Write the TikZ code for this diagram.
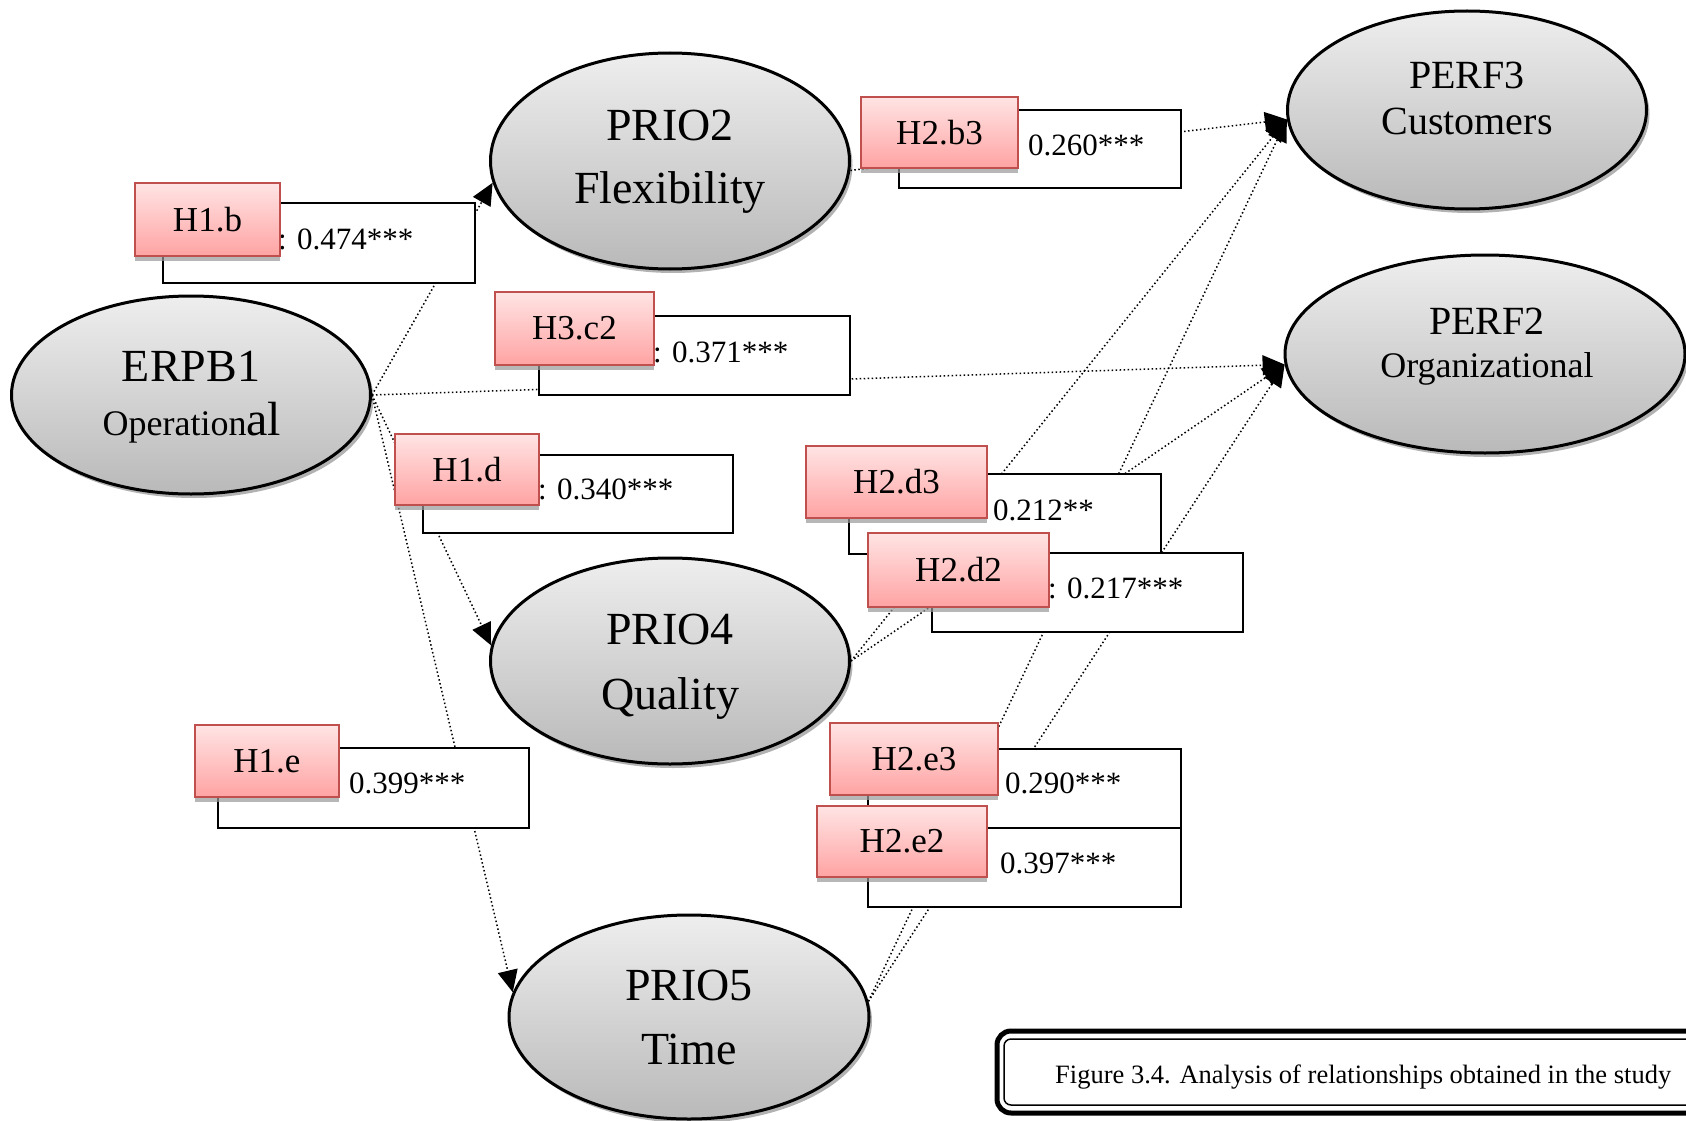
\documentclass[tikz,border=0pt]{standalone}
\usepackage{fontspec}
\setmainfont{Liberation Serif}
\usetikzlibrary{shapes.geometric,arrows.meta,shadows}
\definecolor{ellTop}{RGB}{238,238,238}
\definecolor{ellBot}{RGB}{185,185,185}
\definecolor{hypTop}{RGB}{255,228,228}
\definecolor{hypBot}{RGB}{255,163,163}
\definecolor{hypLine}{RGB}{192,80,77}
\begin{document}
\begin{tikzpicture}[x=1pt,y=-1pt,
  ell/.style={ellipse, draw=black, line width=3pt, top color=ellTop, bottom color=ellBot, inner sep=0pt,
    drop shadow={shadow xshift=3pt,shadow yshift=-4pt,fill=black!50,opacity=0.6}},
  hyp/.style={rectangle, draw=hypLine, line width=2.5pt, top color=hypTop, bottom color=hypBot, inner sep=0pt,
    font=\fontsize{35}{40}\selectfont,
    drop shadow={shadow xshift=0pt,shadow yshift=-5pt,fill=black!40,opacity=0.7}},
  valbox/.style={rectangle, draw=black, line width=2pt, fill=white, inner sep=0pt},
  valtxt/.style={anchor=base west, inner sep=0pt, font=\fontsize{31}{36}\selectfont},
  bigtxt/.style={anchor=base, inner sep=0pt, font=\fontsize{46}{50}\selectfont},
  perftxt/.style={anchor=base, inner sep=0pt, font=\fontsize{40}{44}\selectfont},
  link/.style={line width=1.5pt, dash pattern=on 1.5pt off 2.5pt, -{Triangle[length=22pt,width=20pt]}},
]
\clip (0,0) rectangle (1686,1121);
\fill[white] (0,0) rectangle (1686,1121);

% ellipses
\node[ell, minimum width=359pt, minimum height=198pt] (erpb) at (191,395) {};
\node[ell, minimum width=359pt, minimum height=216pt] (prio2) at (670,161) {};
\node[ell, minimum width=359pt, minimum height=206pt] (prio4) at (670,661) {};
\node[ell, minimum width=360pt, minimum height=204pt] (prio5) at (689,1017) {};
\node[ell, minimum width=359pt, minimum height=198pt] (perf3) at (1467,110) {};
\node[ell, minimum width=400pt, minimum height=198pt] (perf2) at (1485,354) {};

% ellipse texts
\node[bigtxt] (erpbA) at (191,381) {ERPB1};
\node[anchor=base, inner sep=0pt] (erpbB) at (192,435) {{\fontsize{36}{40}\selectfont Operation}{\fontsize{48}{50}\selectfont al}};
\node[bigtxt] (prio2A) at (670,140) {PRIO2};
\node[bigtxt] (prio2B) at (670,203) {Flexibility};
\node[bigtxt] (prio4A) at (670,644) {PRIO4};
\node[bigtxt] (prio4B) at (670,709) {Quality};
\node[bigtxt] (prio5A) at (689,1000) {PRIO5};
\node[bigtxt] (prio5B) at (689,1064) {Time};
\node[perftxt] (perf3A) at (1467,89) {PERF3};
\node[perftxt] (perf3B) at (1467,135) {Customers};
\node[perftxt] (perf2A) at (1487,334) {PERF2};
\node[anchor=base, inner sep=0pt, font=\fontsize{36}{40}\selectfont] (perf2B) at (1487,377) {Organizational};

% connectors
\draw[link] (erpb.east) -- (prio2.187);
\draw[link] (erpb.east) -- (perf2.183);
\draw[link] (erpb.east) -- (prio4.175);
\draw[link] (erpb.east) -- (prio5.172);
\draw[link] (prio2.357) -- (perf3.183);
\draw[link] (prio4.east) -- (perf3.183);
\draw[link] (prio4.east) -- (perf2.183);
\draw[link] (prio5.5) -- (perf3.183);
\draw[link] (prio5.5) -- (perf2.183);

% H1.b
\node[valbox, minimum width=312pt, minimum height=80pt] (b1v) at (319,243) {};
\node[valtxt] (b1t) at (278,249) {: 0.474***};
\node[hyp, minimum width=145pt, minimum height=73pt] (b1) at (207.5,219.5) {H1.b};
% H3.c2
\node[valbox, minimum width=311pt, minimum height=79pt] (c2v) at (694.5,355.5) {};
\node[valtxt] (c2t) at (653,362) {: 0.371***};
\node[hyp, minimum width=159pt, minimum height=73pt] (c2) at (574.5,328.5) {H3.c2};
% H1.d
\node[valbox, minimum width=310pt, minimum height=78pt] (d1v) at (578,494) {};
\node[valtxt] (d1t) at (538,499) {: 0.340***};
\node[hyp, minimum width=144pt, minimum height=71pt] (d1) at (467,469.5) {H1.d};
% H1.e
\node[valbox, minimum width=311pt, minimum height=80pt] (e1v) at (373.5,788) {};
\node[valtxt] (e1t) at (349,793) {0.399***};
\node[hyp, minimum width=144pt, minimum height=72pt] (e1) at (267,761) {H1.e};
% H2.b3
\node[valbox, minimum width=282pt, minimum height=78pt] (b3v) at (1040,149) {};
\node[valtxt] (b3t) at (1028,156) {0.260***};
\node[hyp, minimum width=157pt, minimum height=71pt] (b3) at (939.5,132.5) {H2.b3};
% H2.d3
\node[valbox, minimum width=312pt, minimum height=80pt] (d3v) at (1005,514) {};
\node[valtxt] (d3t) at (993,520) {0.212**};
\node[hyp, minimum width=181pt, minimum height=72pt] (d3) at (896.5,482) {H2.d3};
% H2.d2
\node[valbox, minimum width=311pt, minimum height=79pt] (d2v) at (1087.5,592.5) {};
\node[valtxt] (d2t) at (1048,598) {: 0.217***};
\node[hyp, minimum width=181pt, minimum height=74pt] (d2) at (958.5,570) {H2.d2};
% H2.e3
\node[valbox, minimum width=313pt, minimum height=79pt] (e3v) at (1024.5,788.5) {};
\node[valtxt] (e3t) at (1005,793) {0.290***};
\node[hyp, minimum width=168pt, minimum height=72pt] (e3) at (914,759) {H2.e3};
% H2.e2
\node[valbox, minimum width=313pt, minimum height=79pt] (e2v) at (1024.5,867.5) {};
\node[valtxt] (e2t) at (981,873) {: 0.397***};
\node[hyp, minimum width=170pt, minimum height=71pt] (e2) at (902,841.5) {H2.e2};

% caption
\draw[line width=5pt, rounded corners=14pt] (997,1031) rectangle (1760,1113);
\draw[line width=1.5pt, rounded corners=7pt] (1004,1039) rectangle (1760,1105);
\node[anchor=base west, inner sep=0pt, font=\fontsize{26.5}{30}\selectfont] (caption) at (1055,1083) {Figure 3.4. Analysis of relationships obtained in the study};
\end{tikzpicture}
\end{document}
